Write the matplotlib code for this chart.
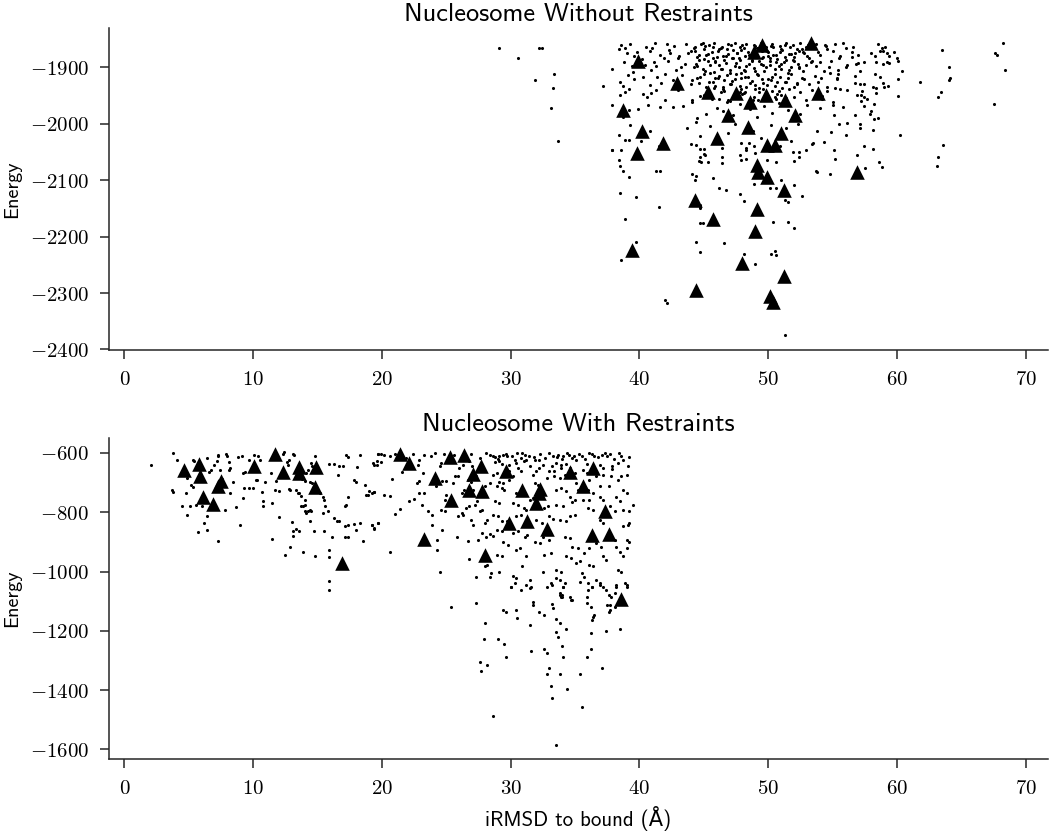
import matplotlib
matplotlib.use("Agg")
import matplotlib.pyplot as plt
import matplotlib.ticker as tck

# ---- top panel: Nucleosome Without Restraints ----
# dense cloud near the top, read band by band
top_a_x = [38.6, 39.3, 40.5, 41.2, 42.1, 42.7, 43.6, 44.3, 44.9, 45.4, 45.8, 46.3, 46.9, 47.4, 47.8, 48.3, 48.9, 49.4, 49.8, 50.3,
           50.9, 51.4, 51.9, 52.5, 52.9, 53.7, 54.4, 55.2, 55.8, 56.6]
top_a_y = [-1860, -1858, -1863, -1857, -1859, -1862, -1858, -1864, -1857, -1861, -1856, -1865, -1859, -1857, -1863, -1858, -1861, -1856, -1864, -1858,
           -1862, -1857, -1860, -1856, -1863, -1858, -1861, -1859, -1857, -1863]
top_b_x = [38.4, 39.0, 39.6, 40.8, 41.9, 42.4, 43.1, 44.0, 44.5, 45.0, 45.3, 45.7, 46.1, 46.5, 46.8, 47.2, 47.6, 47.9, 48.2, 48.6,
           49.1, 49.6, 50.0, 50.4, 50.7, 51.1, 51.6, 52.0, 52.4, 52.8, 53.2, 53.9, 54.6, 55.6, 56.5, 57.0]
top_b_y = [-1868, -1875, -1880, -1870, -1884, -1874, -1879, -1871, -1882, -1867, -1876, -1884, -1871, -1879, -1868, -1883, -1874, -1869, -1880, -1877,
           -1866, -1882, -1872, -1878, -1885, -1869, -1876, -1881, -1870, -1875, -1883, -1873, -1868, -1880, -1872, -1877]
top_c_x = [37.9, 38.8, 39.5, 40.4, 41.1, 41.3, 42.2, 42.8, 43.5, 44.2, 44.6, 45.1, 45.5, 45.9, 46.3, 46.7, 47.0, 47.4, 47.8, 48.1,
           48.5, 48.9, 49.3, 49.7, 50.1, 50.6, 51.0, 51.4, 51.8, 52.3, 52.7, 53.3, 54.0, 54.7, 55.4, 56.1, 57.0]
top_c_y = [-1902, -1890, -1908, -1896, -1891, -1897, -1888, -1905, -1893, -1900, -1887, -1907, -1895, -1889, -1903, -1892, -1909, -1898, -1886, -1904,
           -1894, -1901, -1888, -1906, -1896, -1890, -1903, -1887, -1899, -1893, -1907, -1890, -1891, -1900, -1905, -1895, -1892]
top_d_x = [38.5, 39.1, 39.6, 40.3, 40.8, 41.4, 41.7, 42.6, 43.3, 44.0, 44.5, 45.0, 45.4, 45.9, 46.2, 46.6, 47.1, 47.5, 47.9, 48.3,
           48.7, 49.2, 49.6, 50.0, 50.5, 50.9, 51.3, 51.8, 52.2, 52.8, 53.6, 54.1, 54.8, 55.3, 56.7]
top_d_y = [-1925, -1913, -1920, -1916, -1931, -1917, -1927, -1922, -1914, -1930, -1919, -1912, -1926, -1933, -1915, -1922, -1929, -1911, -1918, -1934,
           -1924, -1913, -1928, -1920, -1932, -1916, -1925, -1912, -1930, -1921, -1915, -1918, -1909, -1921, -1915]
top_e_x = [38.5, 38.9, 39.2, 40.3, 40.6, 40.9, 42.0, 43.0, 44.1, 44.7, 45.8, 46.2, 46.6, 47.0, 47.9, 48.2, 48.9, 49.3, 50.3, 50.6,
           51.0, 51.6, 52.0, 52.5, 52.9, 53.4, 54.2, 54.6, 55.2, 55.6, 56.9]
top_e_y = [-1948, -1943, -1939, -1947, -1952, -1945, -1957, -1940, -1958, -1950, -1936, -1955, -1941, -1959, -1938, -1944, -1953, -1937, -1941, -1956,
           -1948, -1938, -1952, -1944, -1958, -1940, -1950, -1942, -1937, -1939, -1948]
top_f_x = [37.9, 38.7, 39.2, 39.9, 40.7, 41.6, 42.6, 43.4, 44.1, 44.5, 45.2, 46.0, 46.5, 47.3, 47.8, 48.6, 49.1, 49.7, 50.3, 50.8,
           51.5, 52.5, 53.0, 54.0, 55.0, 55.1, 56.7]
top_f_y = [-1967, -1988, -1975, -1974, -1967, -1970, -1970, -1969, -1962, -1990, -1982, -1971, -1978, -1985, -1965, -1973, -1988, -1968, -1980, -1963,
           -1975, -1983, -1966, -1972, -1966, -1984, -1984]
top_g_x = [37.9, 38.4, 38.6, 38.9, 39.2, 39.3, 40.1, 40.8, 41.5, 43.7, 44.0, 44.4, 44.7, 45.0, 45.5, 46.4, 46.9, 47.4, 47.9, 48.3,
           48.8, 49.4, 50.2, 50.9, 51.4, 51.8, 52.3, 52.9, 53.5, 53.8, 54.3, 54.9, 55.5, 56.0, 56.1]
top_g_y = [-2046, -2020, -2047, -2028, -2028, -2002, -2031, -2012, -2040, -2008, -2035, -1996, -2022, -2044, -2004, -2042, -2016, -2000, -2033, -2047,
           -2012, -2025, -2002, -2040, -2008, -2030, -2001, -2046, -2034, -2012, -2032, -2015, -2001, -2020, -1998]
# core of the cloud (x 44-53)
top_core_x = [44.2, 44.6, 45.1, 45.6, 46.0, 46.4, 46.9, 47.3, 47.7, 48.0, 48.4, 48.8, 49.2, 49.5, 49.9, 50.2, 50.6, 51.0, 51.3, 51.7,
              52.1, 52.6, 53.0, 44.4, 44.9, 45.3, 45.8, 46.2, 46.6, 47.0, 47.5, 47.9, 48.3, 48.7, 49.0, 49.4, 49.8, 50.1, 50.5, 50.8,
              51.2, 51.6, 52.0, 52.4, 44.1, 44.7, 45.2, 45.7, 46.1, 46.5, 47.0, 47.4, 47.8, 48.2, 48.6, 49.0, 49.5, 49.9, 50.3, 50.7,
              51.1, 51.5, 52.2, 45.0, 45.6, 46.3, 46.9, 47.6, 48.1, 48.8, 49.3, 50.0, 50.7, 51.4]
top_core_y = [-1866, -1878, -1862, -1873, -1881, -1864, -1876, -1869, -1883, -1861, -1872, -1879, -1865, -1884, -1870, -1862, -1877, -1867, -1882, -1863,
              -1874, -1868, -1880, -1894, -1902, -1889, -1908, -1896, -1886, -1904, -1892, -1910, -1898, -1887, -1906, -1893, -1900, -1889, -1911, -1897,
              -1891, -1905, -1888, -1899, -1922, -1916, -1935, -1926, -1918, -1938, -1929, -1920, -1933, -1917, -1927, -1939, -1921, -1931, -1916, -1925,
              -1936, -1919, -1928, -1948, -1955, -1944, -1958, -1950, -1946, -1957, -1943, -1952, -1947, -1954]
top_core2_x = [44.3, 44.8, 45.2, 45.7, 46.2, 46.7, 47.1, 47.6, 48.1, 48.5, 49.0, 49.5, 50.0, 50.4, 50.9, 51.3, 51.8, 52.2, 52.7, 53.1,
               44.5, 45.0, 45.5, 45.9, 46.4, 46.8, 47.3, 47.7, 48.2, 48.7, 49.1, 49.6, 50.1, 50.5, 51.0, 51.5, 51.9, 52.4, 52.9, 53.4,
               44.6, 45.3, 45.9, 46.5, 47.2, 47.8, 48.4, 49.0, 49.6, 50.2, 50.8, 51.4, 52.0, 52.6, 53.2, 45.4, 46.8, 48.0, 49.2, 50.5]
top_core2_y = [-1871, -1859, -1877, -1863, -1868, -1880, -1860, -1874, -1866, -1878, -1862, -1870, -1879, -1864, -1872, -1860, -1876, -1867, -1873, -1861,
               -1897, -1885, -1909, -1891, -1902, -1913, -1883, -1899, -1907, -1889, -1912, -1895, -1884, -1903, -1893, -1910, -1886, -1901, -1896, -1888,
               -1928, -1941, -1919, -1934, -1924, -1944, -1916, -1931, -1938, -1922, -1942, -1926, -1935, -1918, -1929, -1951, -1962, -1947, -1958, -1953]
top_side_x = [53.5, 54.0, 54.5, 55.0, 55.5, 56.0, 56.5, 53.7, 54.3, 54.9, 55.4, 56.0, 56.8, 53.9, 54.6, 55.3, 56.1, 56.7, 54.2, 55.0,
              55.8, 38.9, 39.8, 40.2, 41.0, 41.6, 42.3, 43.0, 43.8, 39.4, 40.9, 42.0, 43.2, 38.7, 41.3, 42.9]
top_side_y = [-1866, -1878, -1862, -1871, -1884, -1865, -1881, -1897, -1906, -1888, -1912, -1900, -1893, -1925, -1934, -1918, -1940, -1928, -1955, -1962,
              -1970, -1866, -1872, -1885, -1865, -1878, -1869, -1884, -1875, -1898, -1905, -1912, -1899, -1932, -1940, -1925]
# right side and far right
top_right_x = [58.5, 58.8, 59.1, 58.7, 58.9, 58.0, 58.3, 59.2, 59.4, 59.8, 60.0, 60.1, 58.4, 58.9, 59.2, 59.4, 57.4, 60.4, 58.3, 58.7,
               57.1, 60.1, 58.9, 61.8, 63.5, 64.0, 64.1, 64.0, 63.4, 63.2, 68.2, 67.6, 67.8, 68.4, 67.5, 57.1, 57.4, 58.1, 58.4, 59.0,
               59.3, 57.3, 57.2, 58.4, 60.1, 57.7, 57.4, 57.2, 58.2, 57.4, 58.0, 57.9, 58.5, 58.2, 57.1, 57.1, 58.1, 60.2, 57.4, 58.1,
               63.6, 63.2, 63.1]
top_right_y = [-1859, -1865, -1863, -1871, -1871, -1875, -1880, -1875, -1880, -1872, -1884, -1888, -1890, -1894, -1890, -1892, -1891, -1906, -1911, -1916,
               -1907, -1921, -1927, -1926, -1869, -1900, -1919, -1923, -1944, -1953, -1856, -1874, -1878, -1905, -1964, -1930, -1930, -1934, -1937, -1934,
               -1932, -1942, -1948, -1946, -1951, -1956, -1953, -1960, -1965, -1969, -1978, -1982, -1989, -1992, -2001, -2007, -2011, -2020, -2040, -2045,
               -2037, -2059, -2074]
top_left_x = [29.1, 30.6, 32.2, 32.4, 33.4, 31.9, 33.3, 33.1, 33.7, 37.2]
top_left_y = [-1865, -1883, -1865, -1865, -1911, -1923, -1936, -1971, -2030, -1932]
# lower tail
top_low_x = [38.5, 39.7, 41.5, 38.9, 39.7, 38.6, 42.0, 42.1, 44.4, 44.7, 46.6, 44.7, 44.7, 44.9, 48.1, 47.8, 48.1, 49.0, 50.4, 51.5,
             52.0, 50.2, 50.5, 50.6, 51.3, 51.5, 52.6, 51.3, 46.7, 46.2, 45.7, 44.3, 44.1, 44.4, 41.6, 41.3, 39.2, 38.5, 38.7, 38.4,
             37.9, 53.7, 52.4, 52.4, 52.0, 51.0, 50.1, 50.6, 48.9, 48.3, 47.9, 46.4, 46.4, 45.3, 44.8, 44.6, 44.7, 45.0, 45.1, 44.4,
             44.7, 47.8, 48.3, 48.5, 48.9, 49.0, 49.9, 50.6, 51.9, 52.0, 53.4, 53.8, 54.8, 55.2, 55.1, 56.9, 57.5, 58.6, 58.8, 44.7,
             44.7]
top_low_y = [-2123, -2129, -2148, -2169, -2210, -2241, -2312, -2317, -2209, -2228, -2212, -2149, -2176, -2176, -2136, -2124, -2231, -2248, -2174, -2174,
             -2184, -2230, -2225, -2233, -2135, -2138, -2128, -2375, -2118, -2114, -2096, -2099, -2089, -2092, -2084, -2083, -2095, -2074, -2084, -2064,
             -2046, -2084, -2049, -2059, -2108, -2099, -2114, -2114, -2106, -2062, -2064, -2070, -2058, -2068, -2067, -2065, -2058, -2053, -2055, -2037,
             -2045, -2055, -2043, -2034, -2040, -2051, -2064, -2067, -2049, -2065, -2035, -2085, -2089, -2063, -2047, -2055, -2079, -2067, -2076, -2144,
             -2148]
# highlighted models (triangles)
top_tri_x = [39.9, 38.7, 40.2, 39.8, 41.8, 42.9, 45.3, 46.0, 44.3, 45.7, 39.4, 44.4, 49.5, 53.3, 48.9, 47.5, 48.6, 49.8, 51.3, 53.9,
             46.9, 52.1, 48.4, 51.0, 49.9, 50.5, 49.1, 49.2, 49.9, 51.2, 56.9, 49.1, 49.0, 48.0, 51.2, 50.1, 50.4]
top_tri_y = [-1888, -1975, -2012, -2052, -2034, -1927, -1943, -2025, -2135, -2169, -2224, -2295, -1860, -1857, -1873, -1946, -1961, -1949, -1958, -1946,
             -1985, -1985, -2005, -2017, -2038, -2038, -2073, -2086, -2095, -2117, -2085, -2151, -2190, -2246, -2270, -2306, -2316]

# ---- bottom panel: Nucleosome With Restraints ----
bot_left_x = [2.1, 3.8, 4.1, 3.7, 3.8, 4.5, 4.9, 4.8, 4.9, 5.2, 5.3, 5.4, 5.3, 5.1, 5.6, 5.7, 6.0, 6.4, 6.2, 6.4,
              7.3, 6.4, 6.6, 6.7, 7.0, 7.2, 7.3, 7.3, 7.6, 7.4, 7.9, 8.0, 8.1, 8.1, 8.2, 8.2, 8.7, 9.2, 7.8, 8.4,
              8.8, 9.1, 9.0, 9.2, 9.4, 9.3, 9.7, 10.0, 9.7, 10.1, 10.4, 10.2, 10.3, 10.5, 10.7, 10.8, 10.8, 10.9, 11.4, 11.5,
              11.5, 11.7, 12.0, 11.8, 12.0, 12.3, 12.4, 12.8, 13.1, 13.2, 12.6, 12.7, 12.5, 12.8, 12.9, 13.0, 13.1, 13.1, 12.9, 13.3,
              13.5, 13.6, 13.7, 14.0, 13.7, 13.9, 14.0, 14.0, 14.1, 14.3, 14.4, 14.5, 14.4, 13.3, 13.6, 13.9, 14.7, 14.8, 13.8, 14.0,
              14.1, 14.3, 14.4, 14.6, 14.5, 14.6, 14.8, 15.0, 15.2, 15.4, 15.5, 15.6, 15.8, 15.4, 15.5, 15.9, 15.9, 15.9, 15.9, 16.1,
              16.3, 16.5, 16.7, 16.6, 15.9, 16.3, 16.7, 17.0, 17.2, 17.4, 17.1, 17.2, 17.1, 17.4, 17.1, 17.4, 17.4, 17.8, 18.0, 17.8,
              18.0, 18.1, 18.3, 18.5, 18.3, 18.7, 18.8, 18.9, 19.0, 19.4, 19.2, 19.4, 19.4, 19.6, 19.7, 19.7]
bot_left_y = [-640, -600, -625, -726, -733, -780, -811, -735, -685, -707, -716, -628, -623, -778, -775, -867, -778, -812, -837, -859,
              -896, -617, -665, -659, -640, -626, -609, -606, -688, -656, -602, -611, -632, -656, -651, -735, -784, -752, -792, -699,
              -614, -611, -842, -668, -664, -718, -718, -718, -623, -608, -609, -692, -690, -623, -733, -761, -780, -699, -668, -769,
              -890, -726, -727, -696, -816, -602, -598, -625, -602, -606, -632, -640, -944, -722, -724, -834, -865, -880, -918, -724,
              -735, -735, -744, -758, -780, -780, -775, -795, -801, -797, -792, -795, -831, -857, -862, -933, -865, -949, -688, -696,
              -668, -656, -699, -702, -634, -643, -609, -724, -735, -747, -758, -780, -797, -803, -865, -927, -952, -1032, -1064, -882,
              -820, -829, -831, -673, -636, -636, -643, -645, -606, -614, -780, -775, -846, -842, -884, -884, -747, -840, -859, -690,
              -699, -647, -606, -896, -837, -707, -741, -741, -730, -733, -842, -854, -640, -628, -602, -837]
bot_mid_x = [19.3, 19.6, 19.9, 19.7, 19.9, 20.2, 19.2, 19.4, 20.2, 20.6,
             19.2, 19.4, 19.7, 20.6, 21.0, 21.4, 21.6, 21.8, 20.8, 22.1,
             22.5, 22.7, 22.9, 22.9, 23.3, 23.1, 23.2, 22.9, 23.3, 24.1,
             23.6, 23.9, 23.9, 24.3, 24.3, 24.5, 24.7, 24.5, 24.6, 24.7,
             24.9, 25.0, 24.6, 24.9, 25.8, 25.9, 26.2, 26.3, 25.7,
             25.9, 26.0, 26.3, 26.5, 26.8, 26.7, 26.9, 26.5, 26.8, 26.9,
             27.1, 26.8, 26.7, 27.3, 27.5, 27.2, 27.4, 27.6, 27.8,
             28.0, 28.2, 27.8, 28.0, 28.2, 28.4, 28.5, 28.1, 28.4, 28.6,
             28.4, 28.6, 28.8, 28.8, 29.1, 29.1, 29.4, 29.7, 28.6, 28.9,
             29.1, 29.4, 29.3, 29.5, 28.8, 29.1, 28.6, 29.0, 29.3, 29.7,
             28.9, 29.3, 29.4, 29.8, 28.9, 29.3, 29.1, 30.2, 30.4, 30.0,
             30.3, 30.5, 30.8, 30.6, 30.8, 31.1, 31.2, 29.9, 30.2, 30.4,
             30.8, 30.2, 30.6, 31.0, 31.2, 30.4, 30.8, 30.2, 30.6, 31.1,
             31.3, 30.4, 30.7, 31.2, 30.9, 31.2, 31.5, 31.7, 31.7, 32.0,
             32.2, 31.9, 32.1, 31.5, 31.7, 32.0, 32.4, 31.9, 32.3, 32.6,
             32.9, 33.0, 33.3, 32.5, 33.0, 32.6, 33.1, 32.5, 32.8, 33.1,
             33.5, 33.9, 33.5, 33.8, 34.1, 34.2, 33.8, 34.0, 33.3, 33.7,
             34.1, 34.5, 33.5, 33.9, 34.3, 34.8, 35.1, 35.5, 33.4, 33.8,
             34.2, 33.5, 33.9, 34.3, 34.6, 35.0, 34.8, 33.5, 34.1, 33.8,
             34.3, 34.6, 35.0, 34.2, 34.6, 34.8, 35.2, 34.3, 34.7, 35.1,
             35.4, 35.7, 36.1, 36.4, 35.5, 35.7, 36.0, 36.3, 36.6, 36.9,
             37.2, 37.4, 37.6, 37.8, 38.1, 34.6, 34.8, 35.9, 36.2, 37.7,
             35.6, 35.9, 36.1, 36.6, 36.0, 36.4, 36.9, 37.2, 36.0, 36.4,
             36.9, 37.2, 36.6, 37.0, 36.1, 37.2, 37.4, 37.7, 38.1, 38.2,
             38.5, 38.7, 38.3, 38.6, 38.9, 39.0, 38.7, 39.1, 39.0, 39.2,
             39.0, 39.2, 39.5, 39.0, 38.7, 38.3, 38.6, 37.9, 38.3, 38.4,
             37.3, 37.5, 36.9, 37.2, 36.1, 36.5]
bot_mid_y = [-634, -640, -632, -602, -602, -608, -735, -733, -741, -744,
             -842, -857, -837, -935, -805, -788, -664, -651, -688, -761,
             -756, -702, -696, -735, -735, -775, -668, -623, -606, -600,
             -797, -809, -842, -893, -927, -1000, -859, -643, -634, -696,
             -758, -741, -792, -797, -882, -814, -801, -809, -679,
             -679, -651, -640, -623, -628, -690, -699, -786, -778, -825,
             -842, -958, -896, -1017, -893, -775, -763, -797, -792,
             -837, -825, -871, -983, -978, -1017, -1006, -882, -874, -880,
             -606, -611, -614, -632, -628, -611, -606, -609, -673, -668,
             -699, -702, -718, -724, -763, -769, -809, -814, -831, -831,
             -859, -865, -899, -910, -944, -949, -1000, -1015, -1023, -1051,
             -623, -600, -617, -651, -662, -606, -625, -690, -679, -735,
             -741, -769, -775, -786, -792, -814, -809, -871, -865, -882,
             -876, -927, -921, -949, -983, -1045, -1028, -1102, -673, -662,
             -651, -702, -707, -758, -752, -825, -837, -899, -904, -786,
             -780, -814, -823, -882, -893, -944, -938, -1000, -1051, -1040,
             -994, -1000, -1023, -1028, -1051, -1040, -1079, -1085, -611, -606,
             -609, -606, -634, -640, -636, -617, -623, -611, -679, -685,
             -673, -724, -718, -730, -747, -758, -767, -775, -780, -825,
             -831, -814, -809, -882, -888, -916, -921, -949, -955, -972,
             -966, -938, -978, -983, -1006, -1017, -1040, -1051, -1028, -1040,
             -1051, -1062, -1079, -1085, -1073, -1085, -1096, -1107, -1119, -1113,
             -656, -668, -690, -679, -724, -735, -747, -758, -786, -792,
             -825, -837, -904, -916, -921, -949, -961, -882, -893, -916,
             -933, -949, -994, -1000, -1040, -1051, -848, -842, -893, -899,
             -921, -837, -775, -735, -724, -690, -679, -645, -634, -599,
             -600, -611, -640, -651, -600, -609]
bot_top_x = [24.2, 25.0, 25.5, 26.2, 26.4, 27.1, 27.3, 27.7, 28.0, 28.4, 28.9, 29.4, 29.9, 29.9, 30.4, 31.5, 31.9, 32.2, 32.5, 32.8,
             33.0, 33.2, 33.4, 34.6, 35.0, 35.1, 35.2, 35.6, 35.6, 36.1, 36.9, 37.6, 37.8, 38.2, 38.5, 39.0, 39.1, 38.7, 37.2, 37.7,
             38.1, 38.7, 39.2]
bot_top_y = [-713, -696, -702, -735, -724, -724, -679, -662, -713, -702, -713, -679, -662, -640, -634, -645, -623, -623, -640, -685,
             -662, -645, -662, -651, -668, -702, -724, -713, -758, -758, -713, -713, -679, -747, -763, -673, -645, -623, -673, -780,
             -797, -792, -797]
bot_row_x = [20.6, 21.0, 21.9, 22.4, 23.8, 24.8, 25.6, 26.9, 27.6, 28.1, 29.0, 29.6, 30.1, 30.9, 31.4, 31.8, 32.3, 32.7, 33.0, 33.6,
             34.0, 34.4, 34.9, 35.3, 35.8, 36.3, 36.8, 37.1, 37.7, 38.0, 38.6, 39.2, 22.8, 25.2, 27.0, 29.3, 31.0, 33.9, 35.9, 37.9]
bot_row_y = [-612, -605, -618, -603, -611, -602, -608, -604, -616, -601, -620, -603, -612, -600, -609, -615, -604, -618, -601, -613,
             -622, -600, -611, -604, -619, -602, -614, -608, -603, -620, -610, -615, -640, -630, -645, -638, -628, -650, -636, -655]
bot_low_x = [25.4, 27.3, 29.4, 29.6, 30.4, 30.5, 28.0, 27.9, 29.0, 29.5, 29.6, 27.6, 27.7, 28.2, 28.6, 31.5, 31.6, 31.7, 32.2, 32.6,
             32.6, 32.8, 33.3, 33.5, 33.8, 33.5, 33.7, 34.0, 34.3, 34.1, 33.0, 32.8, 33.8, 33.1, 33.2, 34.4, 35.4, 35.5, 33.5, 36.2,
             36.2, 35.9, 36.4, 36.3, 36.5, 37.4, 37.1, 38.5, 37.6, 37.7, 37.5, 38.1, 39.0, 38.2, 38.2, 36.9, 36.3, 36.0, 34.7, 33.9,
             34.0, 33.8, 33.2, 31.6, 31.5, 30.8, 30.3, 30.0, 33.2, 34.1, 35.4, 35.9]
bot_low_y = [-1119, -1107, -1130, -1136, -1130, -1158, -1172, -1228, -1229, -1243, -1290, -1305, -1335, -1314, -1488, -1181, -1267, -1113, -1136, -1145,
             -1260, -1276, -1124, -1161, -1175, -1205, -1220, -1250, -1194, -1290, -1327, -1346, -1346, -1386, -1425, -1395, -1346, -1457, -1584, -1209,
             -1262, -1288, -1152, -1164, -1147, -1200, -1327, -1195, -1136, -1130, -1113, -1119, -1045, -1051, -1045, -1045, -1051, -1062, -1096, -1085,
             -1079, -1074, -1045, -1051, -1057, -1062, -1040, -1051, -1110, -1051, -1034, -1085]
bot_tri_x = [4.6, 5.8, 5.9, 6.1, 6.9, 7.3, 7.5, 10.1, 11.7, 12.3, 13.6, 13.6, 14.9, 14.8, 16.9, 21.4, 22.1, 25.3, 26.4, 24.1,
             27.7, 27.1, 29.6, 26.8, 27.8, 25.4, 30.9, 32.3, 32.2, 32.0, 34.6, 36.4, 35.6, 29.9, 31.3, 32.8, 37.3, 36.3, 37.6, 23.3,
             28.0, 38.6]
bot_tri_y = [-656, -637, -677, -750, -773, -711, -696, -643, -603, -666, -649, -668, -649, -715, -972, -602, -634, -614, -608, -685,
             -643, -671, -662, -724, -727, -758, -724, -722, -735, -769, -665, -651, -713, -835, -831, -857, -795, -876, -874, -890,
             -944, -1094]

plt.rcParams['font.family'] = ['cmss10', 'DejaVu Sans']
plt.rcParams['mathtext.fontset'] = 'cm'
plt.rcParams['axes.unicode_minus'] = False

fig = plt.figure(figsize=(10.5, 8.32), dpi=100)
ax1 = fig.add_axes([0.1035, 0.5793, 0.8945, 0.387])
ax2 = fig.add_axes([0.1035, 0.0874, 0.8945, 0.3865], sharex=ax1)

top_x = (top_a_x + top_b_x + top_c_x + top_d_x + top_e_x + top_f_x + top_g_x + top_core_x + top_core2_x
         + top_side_x + top_right_x + top_left_x + top_low_x)
top_y = (top_a_y + top_b_y + top_c_y + top_d_y + top_e_y + top_f_y + top_g_y + top_core_y + top_core2_y
         + top_side_y + top_right_y + top_left_y + top_low_y)
bot_x = bot_left_x + bot_mid_x + bot_top_x + bot_row_x + bot_low_x
bot_y = bot_left_y + bot_mid_y + bot_top_y + bot_row_y + bot_low_y

ax1.scatter(top_x, top_y, s=5, color='black', linewidths=0, zorder=2)
ax1.scatter(top_tri_x, top_tri_y, s=110, marker='^', color='black', linewidths=0, zorder=3)
ax2.scatter(bot_x, bot_y, s=5, color='black', linewidths=0, zorder=2)
ax2.scatter(bot_tri_x, bot_tri_y, s=110, marker='^', color='black', linewidths=0, zorder=3)

ax1.set_title('Nucleosome Without Restraints', fontsize=19, pad=5)
ax2.set_title('Nucleosome With Restraints', fontsize=19, pad=5)
ax2.set_xlabel('iRMSD to bound (Å)', fontsize=15, labelpad=6)

fmt = tck.FuncFormatter(lambda v, p: r'$%d$' % v)
for ax, step in ((ax1, 100), (ax2, 200)):
    ax.set_ylabel('Energy', fontsize=14.5)
    ax.yaxis.set_label_coords(-0.093, 0.5)
    ax.yaxis.set_major_locator(tck.MultipleLocator(step))
    ax.xaxis.set_major_locator(tck.MultipleLocator(10))
    ax.xaxis.set_major_formatter(fmt)
    ax.yaxis.set_major_formatter(fmt)
    ax.spines['top'].set_visible(False)
    ax.spines['right'].set_visible(False)
    for s in ('left', 'bottom'):
        ax.spines[s].set_linewidth(1.1)
        ax.spines[s].set_color('#262626')
    ax.tick_params(direction='out', length=6.3, width=1.1, color='#262626',
                   labelsize=15, pad=8)
    ax.tick_params(axis='x', labelbottom=True)

fig.savefig('out.png', dpi=100)
